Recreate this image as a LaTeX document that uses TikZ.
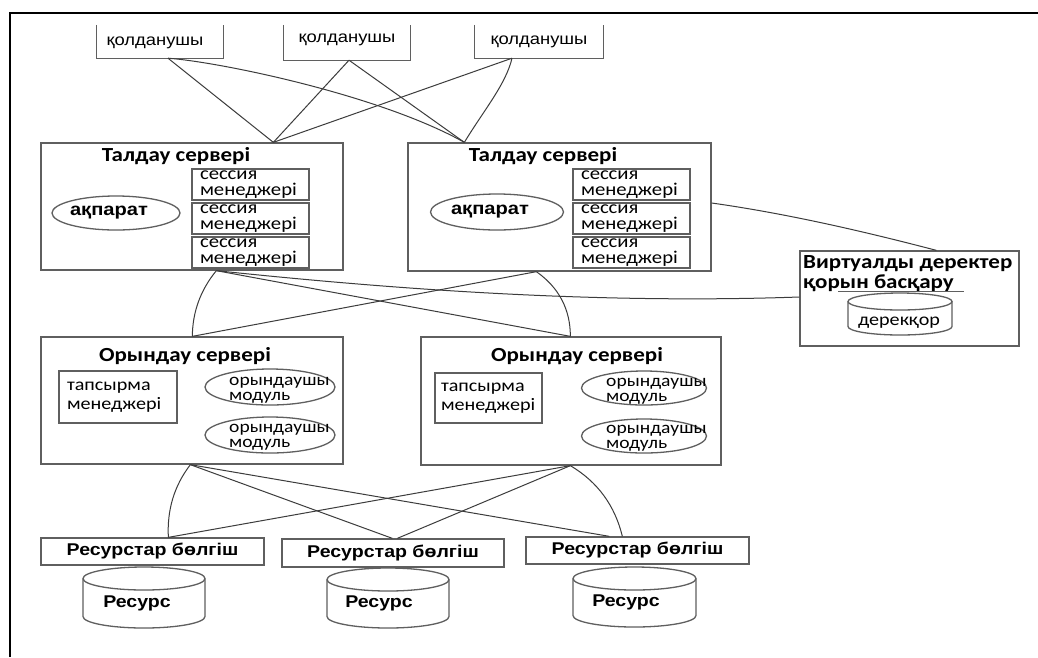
\documentclass[tikz,border=0pt]{standalone}
\usepackage{fontspec}
\setmainfont{Liberation Sans}
\newfontfamily\af[FakeStretch=1.15]{Liberation Sans}
\newfontfamily\cf[FakeStretch=1.15]{Carlito}
\usetikzlibrary{shapes.geometric,calc}
\definecolor{boxc}{RGB}{95,95,95}
\definecolor{linec}{RGB}{60,60,60}
\newcommand{\mycyl}[5]{%
 \draw[bx] ({#1-#4},{#2-#5}) -- ({#1-#4},{#3+#5}) arc[start angle=180,end angle=360,x radius=#4,y radius=#5] -- ({#1+#4},{#2-#5});
 \draw[bx] (#1,{#2-#5}) ellipse[x radius=#4,y radius=#5];}
\begin{document}
\begin{tikzpicture}[x=1pt,y=1pt,
 bx/.style={draw=boxc,line width=1.3pt},
 box/.style={bx,rectangle,inner sep=0pt},
 ell/.style={bx,ellipse,inner sep=0pt},
 conn/.style={draw=linec,line width=1pt},
 ut/.style={inner sep=0pt,font=\af\fontsize{16}{18}\selectfont},
 tt/.style={inner sep=0pt,font=\cf\bfseries\fontsize{20}{22}\selectfont},
 bt/.style={inner sep=0pt,font=\af\bfseries\fontsize{17.5}{20}\selectfont},
 sess/.style={box,minimum width=117pt,minimum height=31pt,text width=101pt,inner xsep=8pt,inner ysep=0pt,align=left,font=\cf\fontsize{18}{16.5}\selectfont},
 task/.style={box,text width=102pt,inner xsep=8pt,inner ysep=0pt,align=left,font=\cf\fontsize{17.5}{19}\selectfont},
 et/.style={inner sep=0pt,anchor=west,align=left,font=\cf\fontsize{17}{15}\selectfont},
 rt/.style={inner sep=0pt,font=\af\bfseries\fontsize{17}{20}\selectfont}
]
\useasboundingbox (0,0) rectangle (1038,-657);
\fill[white] (0,0) rectangle (1038,-657);
% outer frame
\draw[black,line width=2.6pt] (10,-657) -- (10,-13) -- (1038,-13);

% users
\node[inner sep=0pt,minimum width=126pt,minimum height=33pt] (u1) at (160,-41.5) {};
\node[inner sep=0pt,minimum width=126pt,minimum height=35pt] (u2) at (347,-42.5) {};
\node[inner sep=0pt,minimum width=128pt,minimum height=33pt] (u3) at (539,-41.5) {};
\draw[bx] (u1.north west) -- (u1.south west) -- (u1.south east) -- (u1.north east);
\draw[bx] (u2.north west) -- (u2.south west) -- (u2.south east) -- (u2.north east);
\draw[bx] (u3.north west) -- (u3.south west) -- (u3.south east) -- (u3.north east);
\node[ut] (u1t) at (155,-43) {қолданушы};
\node[ut] (u2t) at (347,-40) {қолданушы};
\node[ut] (u3t) at (539,-42) {қолданушы};

% analysis servers
\node[box,minimum width=302pt,minimum height=127pt] (TL) at (192,-206.5) {};
\node[tt] (TLt) at (176,-156) {Талдау сервері};
\node[ell,minimum width=128pt,minimum height=34pt] (TLe) at (116,-213) {};
\node[bt] (TLet) at (109,-213) {ақпарат};
\node[sess] (TLs1) at (250.5,-184.5) {сессия\\менеджері};
\node[sess] (TLs2) at (250.5,-218.5) {сессия\\менеджері};
\node[sess] (TLs3) at (250.5,-252.5) {сессия\\менеджері};

\node[box,minimum width=303pt,minimum height=128pt] (TR) at (559.5,-207) {};
\node[tt] (TRt) at (543,-156) {Талдау сервері};
\node[ell,minimum width=133pt,minimum height=36pt] (TRe) at (497,-212) {};
\node[bt] (TRet) at (490,-212) {ақпарат};
\node[sess] (TRs1) at (631.5,-184.5) {сессия\\менеджері};
\node[sess] (TRs2) at (631.5,-218.5) {сессия\\менеджері};
\node[sess] (TRs3) at (631.5,-252.5) {сессия\\менеджері};

% virtual data store manager
\node[box,minimum width=219pt,minimum height=95pt] (V) at (909.5,-298.5) {};
\node[tt,anchor=north west,align=left,font=\cf\bfseries\fontsize{20}{20}\selectfont] (Vt) at (803,-255) {Виртуалды деректер\\қорын басқару};
\draw[bx,line width=1pt] (838,-291) -- (964,-291);
\mycyl{900}{-293}{-335}{52}{8.5}
\node[inner sep=0pt,font=\cf\fontsize{17.5}{20}\selectfont] (Vd) at (899,-323) {дерекқор};

% execution servers
\node[box,minimum width=302pt,minimum height=127pt] (OL) at (192,-400.5) {};
\node[tt] (OLt) at (185,-356) {Орындау сервері};
\node[task,minimum width=118pt,minimum height=52pt] (OLm) at (118,-397) {тапсырма\\менеджері};
\node[ell,minimum width=130pt,minimum height=36pt] (OLe1) at (270,-387) {};
\node[ell,minimum width=130pt,minimum height=36pt] (OLe2) at (270,-435) {};
\node[et] (OLe1t) at (229,-390) {орындаушы\\модуль};
\node[et] (OLe2t) at (229,-437) {орындаушы\\модуль};

\node[box,minimum width=300pt,minimum height=128pt] (OR) at (571,-401) {};
\node[tt] (ORt) at (577,-356) {Орындау сервері};
\node[task,minimum width=107pt,minimum height=50pt,text width=95pt,inner xsep=6pt] (ORm) at (488.5,-398) {тапсырма\\менеджері};
\node[ell,minimum width=125pt,minimum height=34pt] (ORe1) at (644,-388) {};
\node[ell,minimum width=125pt,minimum height=34pt] (ORe2) at (644,-436) {};
\node[et] (ORe1t) at (606,-391) {орындаушы\\модуль};
\node[et] (ORe2t) at (606,-438) {орындаушы\\модуль};

% resource allocators
\node[box,rt,minimum width=223pt,minimum height=27pt] (R1) at (152.5,-551.5) {Ресурстар бөлгіш};
\node[box,rt,minimum width=222pt,minimum height=28pt] (R2) at (393,-553) {Ресурстар бөлгіш};
\node[box,rt,minimum width=223pt,minimum height=27pt] (R3) at (637.5,-550.5) {Ресурстар бөлгіш};
\mycyl{144}{-567}{-628}{61}{11.5}
\mycyl{388}{-568}{-628}{61}{11.5}
\mycyl{634.5}{-567}{-627}{61.5}{11.5}
\node[rt] (Rc1) at (137,-603) {Ресурс};
\node[rt] (Rc2) at (379,-603) {Ресурс};
\node[rt] (Rc3) at (626,-602) {Ресурс};

% connection points
\coordinate (u1b) at ($(u1.south)+(8,0)$);
\coordinate (u2b) at ($(u2.south)+(2,0)$);
\coordinate (u3b) at ($(u3.south)+(-27,0)$);
\coordinate (tlin) at ($(TL.north west)+(233,0)$);
\coordinate (trin) at ($(TR.north west)+(57,0)$);
\coordinate (tlb) at ($(TL.south west)+(176,0)$);
\coordinate (trb) at ($(TR.south west)+(129,0)$);
\coordinate (olt) at ($(OL.north west)+(152,0)$);
\coordinate (ort) at ($(OR.north west)+(150,0)$);
\coordinate (vl) at ($(V.west)+(0,1.5)$);
\coordinate (trr) at ($(TR.east)+(0,4)$);
\coordinate (vt) at ($(V.north west)+(137,0)$);
\coordinate (olb) at ($(OL.south west)+(150,0)$);
\coordinate (orb) at ($(OR.south west)+(150,0)$);
\coordinate (r1t) at ($(R1.north west)+(128,0)$);
\coordinate (r2a) at ($(R2.north west)+(111,0)$);
\coordinate (r2b) at ($(R2.north west)+(116,0)$);
\coordinate (r3a) at ($(R3.north west)+(84,0)$);
\coordinate (r3b) at ($(R3.north west)+(97,0)$);

% connectors: users - analysis servers
\draw[conn] (u1b) -- (tlin);
\draw[conn] (u1b) .. controls (220,-62) and (380,-95) .. (trin);
\draw[conn] (u2b) -- (tlin);
\draw[conn] (u2b) -- (trin);
\draw[conn] (u3b) -- (tlin);
\draw[conn] (u3b) .. controls (506,-84) and (484,-110) .. (trin);
% analysis - execution / virtual
\draw[conn] (tlb) .. controls (200.5,-290) and (192.5,-312) .. (olt);
\draw[conn] (tlb) -- (ort);
\draw[conn] (tlb) .. controls (400,-290) and (600,-304) .. (vl);
\draw[conn] (trb) -- (olt);
\draw[conn] (trb) .. controls (559,-287.5) and (570.4,-309.5) .. (ort);
\draw[conn] (trr) .. controls (790,-214) and (870,-233) .. (vt);
% execution - resources
\draw[conn] (olb) .. controls (174,-486) and (167,-510) .. (r1t);
\draw[conn] (olb) -- (r2a);
\draw[conn] (olb) -- (r3a);
\draw[conn] (orb) -- (r1t);
\draw[conn] (orb) -- (r2b);
\draw[conn] (orb) .. controls (598,-482) and (615,-506) .. (r3b);
\end{tikzpicture}
\end{document}
